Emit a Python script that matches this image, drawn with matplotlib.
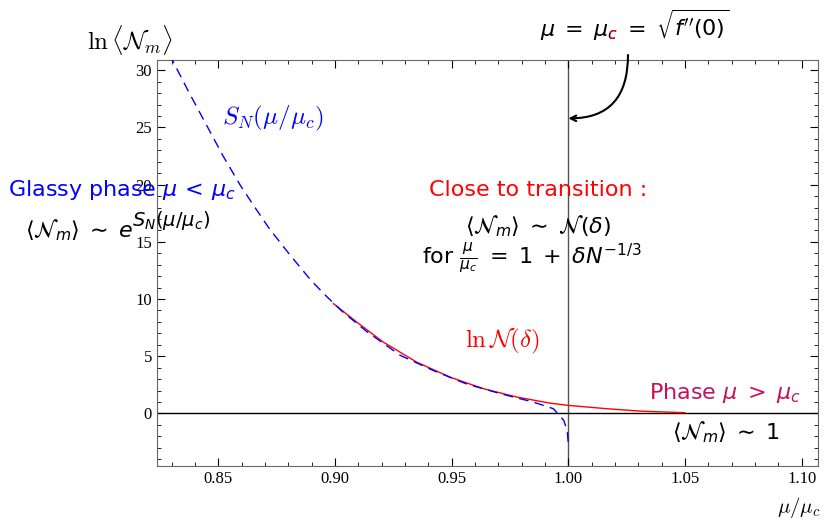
#!/usr/bin/env python3
"""ln<N_m> versus mu/mu_c: glassy phase, transition region and high-mu phase."""
import matplotlib

matplotlib.use("Agg")
import matplotlib.pyplot as plt
from matplotlib.ticker import MultipleLocator
from matplotlib.transforms import Bbox

# S_N(mu/mu_c), blue dashed
sn_x = [0.829, 0.8306, 0.8378, 0.8449, 0.852, 0.8595, 0.866, 0.872, 0.8805,
        0.8898, 0.896, 0.9026, 0.9136, 0.928, 0.942, 0.956, 0.971, 0.985,
        0.9936, 0.998, 0.9995, 1.0]
sn_y = [31.4, 30.74, 27.9, 25.2, 22.5, 19.9, 17.9, 16.1, 13.9,
        11.6, 10.3, 9.0, 7.15, 5.07, 3.76, 2.6, 1.72, 0.99,
        0.41, -0.6, -1.5, -2.65]

# ln N(delta), red solid
lnn_x = [0.8993, 0.9093, 0.9207, 0.935, 0.9493, 0.9636, 0.9779, 0.9921,
         1.0, 1.0166, 1.0309, 1.05]
lnn_y = [9.6, 7.98, 6.23, 4.48, 3.17, 2.16, 1.43, 0.90,
         0.70, 0.41, 0.2, 0.06]

x_ticks = [0.85, 0.90, 0.95, 1.00, 1.05, 1.10]
y_ticks = [0, 5, 10, 15, 20, 25, 30]

plt.rcParams["font.family"] = ["Liberation Serif", "DejaVu Serif"]
plt.rcParams["mathtext.fontset"] = "cm"

fig = plt.figure(figsize=(8.3, 5.2), dpi=100)
ax = fig.add_axes([0.189, 0.1038, 0.7965, 0.7808])

ax.axvline(1.0, color="#555555", lw=1.0, zorder=1)
ax.axhline(0.0, color="black", lw=1.0, zorder=1)
ax.plot(sn_x, sn_y, color="#0000ff", lw=1.0, ls=(0, (7, 4.5)), zorder=3)
ax.plot(lnn_x, lnn_y, color="#ff0000", lw=1.0, zorder=2)

ax.set_xlim(0.8236, 1.107)
ax.set_ylim(-4.6, 30.9)
ax.set_xticks(x_ticks)
ax.set_xticklabels([f"{v:.2f}" for v in x_ticks])
ax.set_yticks(y_ticks)
ax.xaxis.set_minor_locator(MultipleLocator(0.01))
ax.yaxis.set_minor_locator(MultipleLocator(1))
ax.tick_params(which="both", direction="in", top=True, right=True, labelsize=12)
ax.tick_params(which="major", length=6, width=0.8)
ax.tick_params(which="minor", length=3, width=0.6)
for sp in ax.spines.values():
    sp.set_color("#666666")
    sp.set_linewidth(0.8)

# axis titles
fig.text(0.157, 0.923, r"$\ln\langle\mathcal{N}_m\rangle$", fontsize=18,
         ha="center", va="center")
fig.text(0.962, 0.025, r"$\mu/\mu_c$", fontsize=15, ha="center", va="center")

sans = dict(family=["DejaVu Sans"], math_fontfamily="dejavusans", fontsize=16)

fig.text(0.0096, 0.635, r"Glassy phase $\mu\,<\,\mu_c$", color="#0000ff",
         ha="left", va="center", **sans)
fig.text(0.030, 0.544, r"$\langle\mathcal{N}_m\rangle\;\sim\;e$",
         color="black", ha="left", va="baseline", **sans)
fig.text(0.159, 0.566, r"$S_N(\mu/\mu_c)$", color="black",
         family=["DejaVu Sans"], math_fontfamily="dejavusans", fontsize=14,
         ha="left", va="baseline")
fig.text(0.267, 0.773, r"$S_N(\mu/\mu_c)$", color="#0000ff", fontsize=18,
         ha="left", va="center")

fig.text(0.648, 0.635, "Close to transition :", color="#ff0000",
         ha="center", va="center", **sans)
fig.text(0.648, 0.565,
         r"$\langle\mathcal{N}_m\rangle\;\sim\;\mathcal{N}(\delta)$",
         color="black", ha="center", va="center", **sans)
fig.text(0.508, 0.504,
         r"for $\frac{\mu}{\mu_c}\;=\;1\;+\;\delta N^{-1/3}$",
         color="black", ha="left", va="center", **sans)
fig.text(0.605, 0.344, r"$\ln\mathcal{N}(\delta)$", color="#ff0000",
         fontsize=18, ha="center", va="center")

fig.text(0.964, 0.244, r"Phase $\mu\;>\;\mu_c$", color="#c8105a",
         ha="right", va="center", **sans)
fig.text(0.81, 0.169, r"$\langle\mathcal{N}_m\rangle\;\sim\;1$", color="black",
         ha="left", va="center", **sans)

# top formula, with the subscript c in red
top_pos = (0.651, 0.952)
full = r"$\mu\;=\;\mu_c\;=\;\sqrt{f''(0)}$"
fig.text(*top_pos, full, color="black", ha="left", va="center", **sans)
fig.canvas.draw()
r = fig.canvas.get_renderer()
t_a = fig.text(*top_pos, r"$\mu\;=\;\mu$", ha="left", va="center", alpha=0, **sans)
t_b = fig.text(*top_pos, r"$\mu\;=\;\mu_c$", ha="left", va="center", alpha=0, **sans)
x0 = t_a.get_window_extent(r).x1
x1 = t_b.get_window_extent(r).x1
red = fig.text(*top_pos, full, color="#ff0000", ha="left", va="center", **sans)
red.set_clip_box(Bbox([[x0 + 0.5, 0], [x1 + 0.5, fig.bbox.height]]))
red.set_clip_on(True)

ax.annotate("", xy=(1.0, 25.8), xycoords="data",
            xytext=(628, 465), textcoords="figure pixels",
            arrowprops=dict(arrowstyle="->", lw=1.5, color="black",
                            shrinkA=0, shrinkB=0,
                            connectionstyle="angle3,angleA=90,angleB=0"),
            annotation_clip=False)

fig.savefig("out.png", dpi=100)
